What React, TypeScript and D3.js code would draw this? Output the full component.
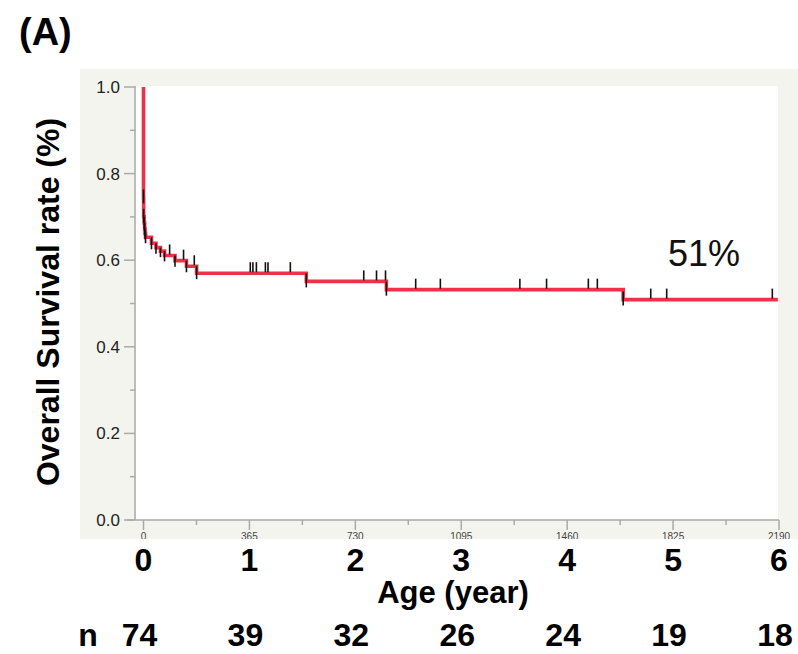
import React, { useEffect, useRef } from 'react';
import * as d3 from 'd3';

// Kaplan-Meier steps (days after diagnosis, survival after the event)
const stepDays = [0, 0.5, 2.5, 4, 5.5, 7, 27.5, 43, 58.5, 72.5, 108.5, 148, 183, 561, 837, 1653];
const stepSurv = [0.745, 0.70, 0.686, 0.672, 0.662, 0.653, 0.639, 0.629, 0.621, 0.611, 0.599, 0.586, 0.570, 0.551, 0.532, 0.509];
// censored patients
const censorDays = [90, 138, 175, 368, 377, 389, 420, 429, 506, 759, 803, 834, 938, 1023, 1297, 1389, 1533, 1564, 1748, 1803, 2167];
const lastDay = 2186;

const yearTicks = [0, 1, 2, 3, 4, 5, 6];
const dayLabels = ['0', '365', '730', '1095', '1460', '1825', '2190'];
const atRisk = [74, 39, 32, 26, 24, 19, 18];
const yTicks = [0, 0.2, 0.4, 0.6, 0.8, 1.0];
const finalLabel = '51%';

const FONT = '"Liberation Sans", Arial, Helvetica, sans-serif';

export default function App() {
    const ref = useRef<SVGSVGElement>(null);

    useEffect(() => {
        const svg = d3.select(ref.current);
        svg.selectAll('*').remove();

        const x = d3.scaleLinear().domain([0, 2190]).range([143.5, 779]);
        const y = d3.scaleLinear().domain([0, 1]).range([520, 87]);

        // panel background
        svg.append('rect').attr('x', 80).attr('y', 69).attr('width', 718).attr('height', 470).attr('fill', '#f4f4ee');
        svg.append('rect').attr('x', 136).attr('y', 86).attr('width', 642).attr('height', 434).attr('fill', '#ffffff');

        const grey = '#aaaaaa';

        // y axis
        svg.append('line').attr('x1', 135).attr('x2', 135).attr('y1', 86).attr('y2', 520)
            .attr('stroke', grey).attr('stroke-width', 1.5);
        d3.range(0, 1.01, 0.1).forEach((v, i) => {
            const major = i % 2 === 0;
            svg.append('line')
                .attr('x1', major ? 124 : 130).attr('x2', 135)
                .attr('y1', y(v)).attr('y2', y(v))
                .attr('stroke', grey).attr('stroke-width', 1.5);
        });
        svg.append('g').selectAll('text')
            .data(yTicks)
            .enter()
            .append('text')
            .attr('x', 120)
            .attr('y', d => y(d) + 6)
            .attr('text-anchor', 'end')
            .attr('font-family', FONT)
            .attr('font-size', 17)
            .attr('fill', '#222')
            .text(d => d.toFixed(1));

        // x axis
        svg.append('line').attr('x1', 127).attr('x2', 779).attr('y1', 520).attr('y2', 520)
            .attr('stroke', grey).attr('stroke-width', 1.5);
        d3.range(0, 2190.1, 182.5).forEach((d, i) => {
            svg.append('line')
                .attr('x1', x(d)).attr('x2', x(d))
                .attr('y1', 520).attr('y2', i % 2 === 0 ? 530 : 525)
                .attr('stroke', grey).attr('stroke-width', 1.5);
        });

        // original day labels, cut at the panel edge
        svg.append('clipPath').attr('id', 'dayClip')
            .append('rect').attr('x', 80).attr('y', 520).attr('width', 718).attr('height', 19);
        svg.append('g').attr('clip-path', 'url(#dayClip)')
            .selectAll('text')
            .data(dayLabels)
            .enter()
            .append('text')
            .attr('x', (d, i) => x(i * 365))
            .attr('y', 540)
            .attr('text-anchor', 'middle')
            .attr('font-family', FONT)
            .attr('font-size', 10)
            .attr('fill', '#444')
            .text(d => d);

        // Kaplan-Meier curve
        const pts: [number, number][] = [[0, 1]];
        stepDays.forEach((d, i) => pts.push([d, stepSurv[i]]));
        pts.push([lastDay, stepSurv[stepSurv.length - 1]]);
        const line = d3.line<[number, number]>()
            .x(d => x(d[0]))
            .y(d => y(d[1]))
            .curve(d3.curveStepAfter);
        svg.append('path')
            .attr('d', line(pts))
            .attr('fill', 'none')
            .attr('stroke', '#ee3048')
            .attr('stroke-width', 3.6);

        // event marks at each drop
        stepDays.forEach((d, i) => {
            const upper = i === 0 ? 1 : stepSurv[i - 1];
            const yl = y(stepSurv[i]);
            svg.append('line')
                .attr('x1', x(d)).attr('x2', x(d))
                .attr('y1', Math.max(y(upper), yl - 8))
                .attr('y2', yl + 6)
                .attr('stroke', '#111').attr('stroke-width', 1.6);
        });

        // censor ticks
        const survAt = (t: number) => {
            let s = 1;
            stepDays.forEach((d, i) => { if (d <= t) s = stepSurv[i]; });
            return s;
        };
        censorDays.forEach(d => {
            const yy = y(survAt(d));
            svg.append('line')
                .attr('x1', x(d)).attr('x2', x(d))
                .attr('y1', yy - 1).attr('y2', yy - 11)
                .attr('stroke', '#111').attr('stroke-width', 1.6);
        });

        // final survival label
        svg.append('text')
            .attr('x', 668).attr('y', 266)
            .attr('font-family', FONT).attr('font-size', 36)
            .attr('fill', '#111')
            .text(finalLabel);

        // year labels
        svg.append('g').selectAll('text')
            .data(yearTicks)
            .enter()
            .append('text')
            .attr('x', d => x(d * 365))
            .attr('y', 571)
            .attr('text-anchor', 'middle')
            .attr('font-family', FONT)
            .attr('font-size', 32)
            .attr('font-weight', 'bold')
            .attr('fill', '#000')
            .text(d => d);

        svg.append('text')
            .attr('x', 453).attr('y', 603)
            .attr('text-anchor', 'middle')
            .attr('font-family', FONT).attr('font-size', 31).attr('font-weight', 'bold')
            .text('Age (year)');

        // number at risk
        svg.append('text')
            .attr('x', 88).attr('y', 646)
            .attr('text-anchor', 'middle')
            .attr('font-family', FONT).attr('font-size', 32).attr('font-weight', 'bold')
            .text('n');
        svg.append('g').selectAll('text')
            .data(atRisk)
            .enter()
            .append('text')
            .attr('x', (d, i) => x(i * 365) - 4)
            .attr('y', 646)
            .attr('text-anchor', 'middle')
            .attr('font-family', FONT)
            .attr('font-size', 32)
            .attr('font-weight', 'bold')
            .text(d => d);

        // y title
        svg.append('text')
            .attr('transform', 'translate(59, 302) rotate(-90)')
            .attr('text-anchor', 'middle')
            .attr('font-family', FONT).attr('font-size', 32).attr('font-weight', 'bold')
            .text('Overall Survival rate (%)');

        // panel letter
        svg.append('text')
            .attr('x', 19).attr('y', 45)
            .attr('font-family', FONT).attr('font-size', 38).attr('font-weight', 'bold')
            .text('(A)');
    }, []);

    return (
        <div style={{ position: 'absolute', left: 0, top: 0 }}>
            <svg ref={ref} width={798} height={654} style={{ display: 'block', background: '#fff' }} />
        </div>
    );
}
